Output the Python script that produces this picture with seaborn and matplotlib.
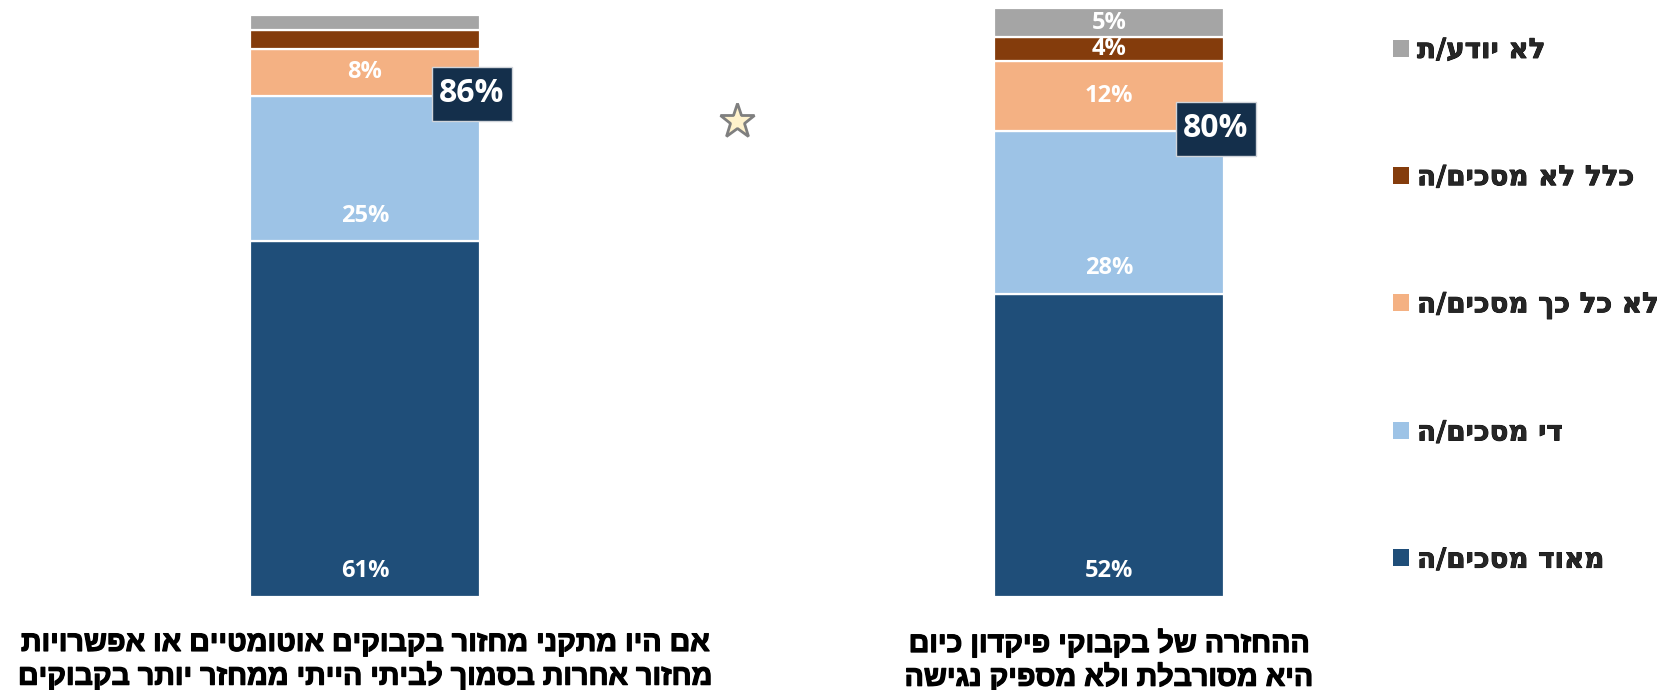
import numpy as np
import pandas as pd
import matplotlib
matplotlib.use("Agg")
import matplotlib.pyplot as plt
import matplotlib.patheffects as pe
from matplotlib.patches import Patch
from matplotlib.path import Path
import seaborn as sns

# Statements (logical Hebrew order, one list entry per printed line)
statement_ids = ["s1", "s2"]
statement_lines = [
    ["אם היו מתקני מחזור בקבוקים אוטומטיים או אפשרויות",
     "מחזור אחרות בסמוך לביתי הייתי ממחזר יותר בקבוקים"],
    ["ההחזרה של בקבוקי פיקדון כיום",
     "היא מסורבלת ולא מספיק נגישה"],
]

# Response categories, bottom of the stack first
responses = ["מאוד מסכים/ה", "די מסכים/ה", "לא כל כך מסכים/ה", "כלל לא מסכים/ה", "לא יודע/ת"]
colors = ["#1F4E79", "#9DC3E6", "#F4B183", "#843C0C", "#A5A5A5"]
label_anchor = ["base", "base", "center", "center", "center"]

# Percentages per statement
very_agree = [61, 52]
quite_agree = [25, 28]
not_so_agree = [8, 12]
not_at_all = [3.2, 4]
dont_know = [2.6, 5]
agree_total = [86, 80]

series = [very_agree, quite_agree, not_so_agree, not_at_all, dont_know]


def rtl(text):
    """matplotlib lays glyphs out left-to-right, so Hebrew is given in visual order."""
    return text[::-1]


def callout_box(x0, y0, width, height, mutation_size):
    """Fixed 80x54 px rectangle centred on the text."""
    cx, cy = x0 + width / 2, y0 + height / 2
    hw, hh = 40, 27
    return Path([(cx - hw, cy - hh), (cx + hw, cy - hh), (cx + hw, cy + hh),
                 (cx - hw, cy + hh), (cx - hw, cy - hh)], closed=True)


W, H = 1657, 690
fig = plt.figure(figsize=(W / 100, H / 100), dpi=100)
sns.set_style("white")
plt.rcParams["font.family"] = ["DejaVu Sans"]

heavy = [pe.withStroke(linewidth=0.9, foreground="black")]

# axes spans pixel columns 0..1380, rows 14..597
ax = fig.add_axes([0, 93 / H, 1380 / W, 583 / H])

num_font = dict(family="Open Sans", fontweight="bold", color="white")

bar_w = 230 / 744
bottom = np.zeros(len(statement_ids))
for vals, col, anchor in zip(series, colors, label_anchor):
    df = pd.DataFrame({"statement": statement_ids, "value": vals})
    sns.barplot(data=df, x="statement", y="value", order=statement_ids,
                color=col, saturation=1, width=bar_w, errorbar=None,
                bottom=bottom.copy(), edgecolor="white", linewidth=1.6,
                clip_on=False, ax=ax)
    for i, v in enumerate(vals):
        if v < 4:
            continue
        if anchor == "base":
            ax.annotate(f"{v:.0f}%", xy=(i, bottom[i]), xytext=(0, 18.5),
                        textcoords="offset points", ha="center", va="center",
                        fontsize=17, **num_font)
        else:
            ax.text(i, bottom[i] + v / 2, f"{v:.0f}%", ha="center", va="center",
                    fontsize=17, **num_font)
    bottom += np.array(vals, dtype=float)

# total-agreement callouts at the top of the two "agree" segments
for i, tot in enumerate(agree_total):
    ax.annotate(f"{tot}%", xy=(i + bar_w / 2, very_agree[i] + quite_agree[i]),
                xytext=(-5.8, 1.5), textcoords="offset points", ha="center", va="center",
                fontsize=23, **num_font,
                bbox=dict(boxstyle=callout_box, fc="#142F4B", ec="#D0D4DA", lw=1))

# significance marker between the bars
ax.plot([0.5], [81.6], marker="*", ms=26, mfc="#FFF2CC", mec="#7F7F7F", mew=2,
        clip_on=False, zorder=5)

ax.set_xlim(-365 / 744, (1380 - 365) / 744)
ax.set_ylim(0, 100)
ax.set_xlabel("")
ax.set_ylabel("")
ax.set_yticks([])
ax.set_xticks(range(len(statement_ids)))
ax.set_xticklabels(["\n".join(rtl(l) for l in lines) for lines in statement_lines],
                   fontsize=20.6, fontweight="bold", family="Liberation Sans",
                   linespacing=1.2, multialignment="center", color="black")
for t in ax.get_xticklabels():
    t.set_path_effects(heavy)
ax.tick_params(axis="x", length=0, pad=23)
for s in ax.spines.values():
    s.set_visible(False)

# legend, top entry = last stacked category
handles = [Patch(facecolor=c, edgecolor="none") for c in colors][::-1]
labels = [rtl(r) for r in responses][::-1]
leg = fig.legend(handles, labels, loc="upper left", bbox_to_anchor=(1393 / W, 1 - 36 / H),
                 frameon=False, prop=dict(family="DejaVu Sans", weight="bold", size=20),
                 handlelength=0.576, handleheight=0.576, handletextpad=0.29,
                 labelspacing=3.57, borderpad=0, borderaxespad=0)
for t in leg.get_texts():
    t.set_path_effects([pe.withStroke(linewidth=0.6, foreground="black")])

fig.savefig("out.png", dpi=100, facecolor="white")
